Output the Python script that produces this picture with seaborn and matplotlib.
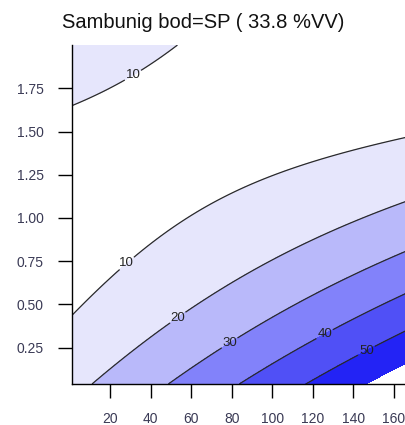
import numpy as np
import matplotlib
matplotlib.use("Agg")
import matplotlib.pyplot as plt
import seaborn as sns

# Quadratic response-surface coefficients (x in units of 100):
# z = b0 + b1*x + b2*y + b3*x^2 + b4*y^2 + b5*x*y
coef = [18.1715, 25.6662, -24.2667, 2.7838, 11.7363, -19.7623]
x_range = [1, 166]
y_range = [0.04, 2.0]
line_levels = [10, 20, 30, 40, 50]
fill_levels = [-100, 10, 20, 30, 40, 50, 60, 200]
fill_colors = ["#ffffff", "#e6e6fc", "#b9b9fa", "#8282fa", "#5050f6", "#2323f5", "#ffffff"]
label_pos = [(31, 1.83), (28, 0.74), (53.6, 0.42), (78.8, 0.28), (126, 0.326), (147, 0.22)]
x_ticks = [20, 40, 60, 80, 100, 120, 140, 160]
y_ticks = [0.25, 0.50, 0.75, 1.00, 1.25, 1.50, 1.75]
title = "Sambunig bod=SP ( 33.8 %VV)"

sns.set_style("ticks")
plt.rcParams["font.family"] = ["Liberation Sans", "DejaVu Sans"]

gx, gy = np.meshgrid(np.linspace(x_range[0], x_range[1], 300),
                     np.linspace(y_range[0], y_range[1], 300))
s = gx / 100.0
Z = (coef[0] + coef[1] * s + coef[2] * gy + coef[3] * s ** 2
     + coef[4] * gy ** 2 + coef[5] * s * gy)

fig = plt.figure(figsize=(4.06, 4.25), dpi=100)
ax = fig.add_axes([0.1766, 0.0965, 0.8234, 0.7975])
ax.contourf(gx, gy, Z, levels=fill_levels, colors=fill_colors)
cs = ax.contour(gx, gy, Z, levels=line_levels, colors="#2a2a2a", linewidths=0.9)
labels = ax.clabel(cs, fmt="%d", fontsize=9.5, colors="#222222", inline=True,
                   inline_spacing=2, manual=label_pos)
for t in labels:
    t.set_rotation(0)

ax.set_xlim(*x_range)
ax.set_ylim(*y_range)
ax.set_xticks(x_ticks)
ax.set_yticks(y_ticks)
ax.set_yticklabels([f"{v:.2f}" for v in y_ticks])
ax.tick_params(axis="both", direction="out", length=10, width=1, color="black",
               labelsize=10, labelcolor="#3a3a55")
ax.tick_params(axis="x", pad=10)
ax.tick_params(axis="y", pad=10)
for side in ("left", "bottom"):
    ax.spines[side].set_linewidth(1)
    ax.spines[side].set_color("black")
sns.despine(ax=ax)

fig.text(0.5, 0.935, title, ha="center", va="baseline", fontsize=14.5, color="#111111")
fig.savefig("out.png")
